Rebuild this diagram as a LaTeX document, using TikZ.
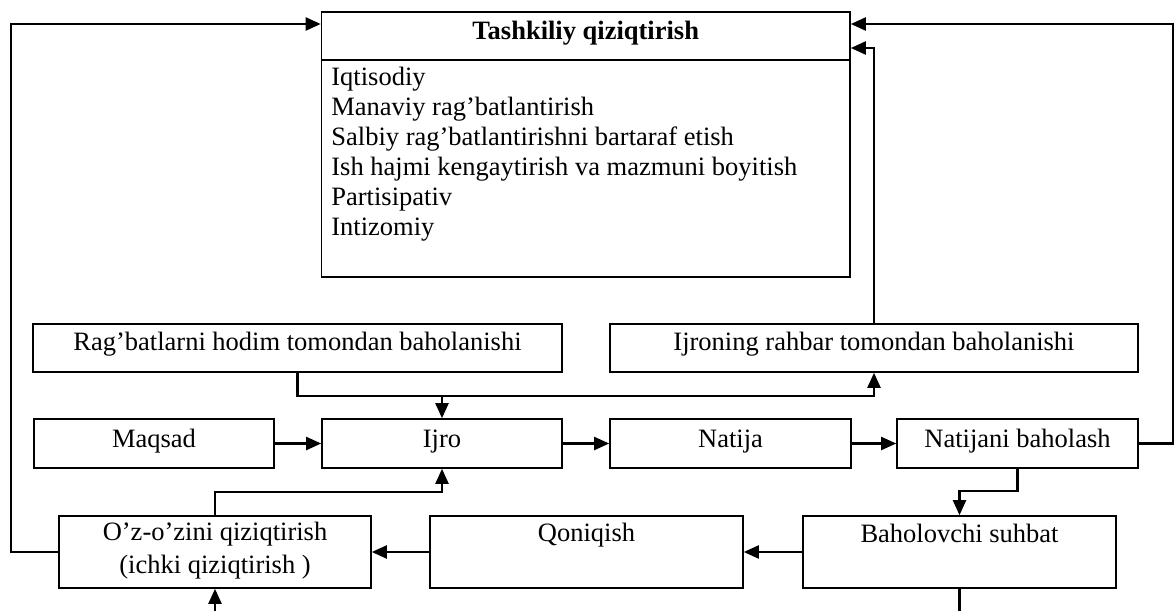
\documentclass[tikz,border=0pt]{standalone}
\usepackage{fontspec}
\setmainfont{Liberation Serif}
\usetikzlibrary{arrows.meta}
\begin{document}
\begin{tikzpicture}[x=0.5pt,y=-0.5pt,
  font=\fontsize{13.25pt}{15pt}\selectfont,
  box/.style={draw, line width=0.8pt, rectangle, inner sep=0pt},
  txt/.style={inner sep=0pt, anchor=base},
  ltxt/.style={inner sep=0pt, anchor=base west},
  conn/.style={line width=1.1pt},
  arr/.style={line width=1.1pt, -{Triangle[length=7.5pt,width=6.5pt]}}]
\useasboundingbox (0,0) rectangle (1175,611);
% boxes
\node[box, minimum width=264.25pt, minimum height=132.5pt] (tash) at (585.75,144.5) {};
\draw[line width=0.8pt] (tash.west |- 0,60) -- (tash.east |- 0,60);
\node[box, minimum width=264.5pt, minimum height=24pt] (rag) at (297.5,348) {};
\node[box, minimum width=264pt, minimum height=24pt] (ijr) at (874,348) {};
\node[box, minimum width=120pt, minimum height=24.5pt] (maq) at (154,443.5) {};
\node[box, minimum width=120pt, minimum height=24.5pt] (ijro) at (442,443.5) {};
\node[box, minimum width=120.5pt, minimum height=24.5pt] (nat) at (730.5,443.5) {};
\node[box, minimum width=120.5pt, minimum height=24.5pt] (natb) at (1017.5,443.5) {};
\node[box, minimum width=156pt, minimum height=36pt] (oz) at (215,552) {};
\node[box, minimum width=156.5pt, minimum height=36pt] (qon) at (586.5,552) {};
\node[box, minimum width=156.5pt, minimum height=36pt] (bah) at (959.5,552) {};
% texts
\node[txt] (tasht) at (585.75,39) {\bfseries Tashkiliy qiziqtirish};
\node[ltxt] (l1) at (331,85) {Iqtisodiy};
\node[ltxt] (l2) at (331,115) {Manaviy rag’batlantirish};
\node[ltxt] (l3) at (331,145) {Salbiy rag’batlantirishni bartaraf etish};
\node[ltxt] (l4) at (331,175) {Ish hajmi kengaytirish va mazmuni boyitish};
\node[ltxt] (l5) at (331,205) {Partisipativ};
\node[ltxt] (l6) at (331,235) {Intizomiy};
\node[txt] (ragt) at (297.5,350) {Rag’batlarni hodim tomondan baholanishi};
\node[txt] (ijrt) at (874,350) {Ijroning rahbar tomondan baholanishi};
\node[txt] (maqt) at (154,447) {Maqsad};
\node[txt] (ijrot) at (442,447) {Ijro};
\node[txt] (natt) at (730.5,447) {Natija};
\node[txt] (natbt) at (1017.5,447) {Natijani baholash};
\node[txt] (ozt1) at (215,540) {O’z-o’zini qiziqtirish};
\node[txt] (ozt2) at (215,573) {(ichki qiziqtirish )};
\node[txt] (qont) at (586.5,541) {Qoniqish};
\node[txt] (baht) at (959.5,542) {Baholovchi suhbat};
% connectors
\draw[arr] (oz.west) -| (11,24) -- (tash.west |- 0,24);
\draw[arr] (natb.east) -| (1173,24) -- (tash.east |- 0,24);
\draw[arr] (ijr.north) |- (tash.east |- 0,48);
\draw[arr] (rag.south) |- (ijr.south |- 0,396) -- (ijr.south);
\draw[arr] (ijro.north |- 0,396) -- (ijro.north);
\draw[arr] (maq.east) -- (ijro.west);
\draw[arr] (ijro.east) -- (nat.west);
\draw[arr] (nat.east) -- (natb.west);
\draw[arr] (natb.south) -- (natb.south |- 0,491) -| (bah.north);
\draw[arr] (bah.west) -- (qon.east);
\draw[arr] (qon.west) -- (oz.east);
\draw[arr] (oz.north) -- (oz.north |- 0,492) -| (ijro.south);
\draw[arr] (oz.south |- 0,611) -- (oz.south);
\draw[conn] (bah.south) -- (bah.south |- 0,611);
\end{tikzpicture}
\end{document}
